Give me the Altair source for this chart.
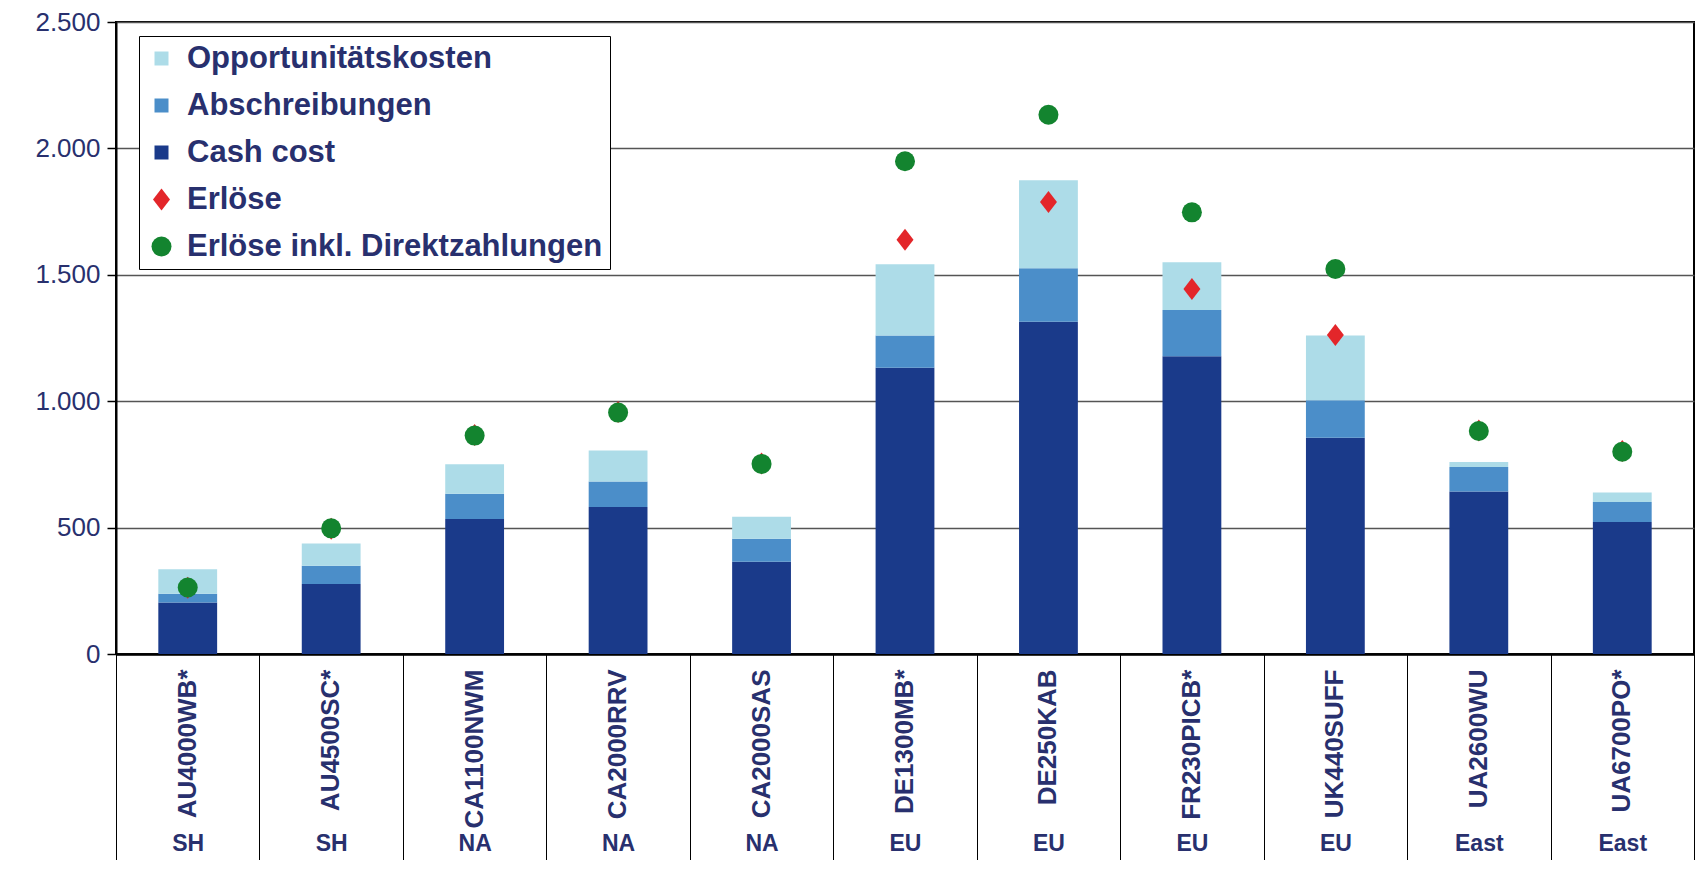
import altair as alt
import pandas as pd

# ---------------- data ----------------
categories = ["AU4000WB*", "AU4500SC*", "CA1100NWM", "CA2000RRV", "CA2000SAS",
              "DE1300MB*", "DE250KAB", "FR230PICB*", "UK440SUFF", "UA2600WU", "UA6700PO*"]
regions = ["SH", "SH", "NA", "NA", "NA", "EU", "EU", "EU", "EU", "East", "East"]

cash_cost = [204, 277, 534, 581, 365, 1132, 1314, 1178, 855, 643, 522]
abschreibungen = [34, 72, 100, 101, 91, 128, 212, 183, 149, 97, 79]
opportunitaetskosten = [97, 88, 117, 123, 87, 282, 348, 189, 256, 19, 38]
erloese = [262, 495, 866, 957, 754, 1639, 1788, 1444, 1262, 884, 803]
erloese_dz = [263, 497, 864, 955, 752, 1949, 2133, 1747, 1523, 882, 800]

series_names = ["Opportunitätskosten", "Abschreibungen", "Cash cost",
                "Erlöse", "Erlöse inkl. Direktzahlungen"]
series_colors = ["#ADDCE8", "#4B8EC9", "#1A3A8A", "#E3262A", "#13842F"]
SQUARE = "M-0.7,-0.7H0.7V0.7H-0.7Z"
DIAMOND = "M-0.85,0L0,-1.1L0.85,0L0,1.1Z"
series_shapes = [SQUARE, SQUARE, SQUARE, DIAMOND, "circle"]

NAVY = "#28306E"
FONT = "Liberation Sans"

# ---------------- tables ----------------
bar_rows = []
for i, c in enumerate(categories):
    bar_rows.append({"category": c, "series": "Cash cost", "value": cash_cost[i], "order": 0})
    bar_rows.append({"category": c, "series": "Abschreibungen", "value": abschreibungen[i], "order": 1})
    bar_rows.append({"category": c, "series": "Opportunitätskosten", "value": opportunitaetskosten[i], "order": 2})
bars_df = pd.DataFrame(bar_rows)

pt_rows = []
for i, c in enumerate(categories):
    pt_rows.append({"category": c, "series": "Erlöse", "value": erloese[i]})
for i, c in enumerate(categories):
    pt_rows.append({"category": c, "series": "Erlöse inkl. Direktzahlungen", "value": erloese_dz[i]})
points_df = pd.DataFrame(pt_rows)

# ---------------- scales ----------------
x_scale = alt.Scale(paddingInner=0, paddingOuter=0)
y_scale = alt.Scale(domain=[0, 2500], nice=False)
color_scale = alt.Scale(domain=series_names, range=series_colors)
shape_scale = alt.Scale(domain=series_names, range=series_shapes)

cats_js = "[" + ",".join("'" + c + "'" for c in categories) + "]"
regs_js = "[" + ",".join("'" + r + "'" for r in regions) + "]"
region_expr = f"{regs_js}[indexof({cats_js}, datum.value)]"

legend = alt.Legend(
    title=None, orient="none", legendX=23, legendY=14,
    labelFont=FONT, labelFontSize=31, labelFontWeight="bold", labelColor=NAVY,
    labelLimit=700, labelOffset=10, symbolSize=400, symbolStrokeWidth=0,
    symbolOpacity=1, rowPadding=15, padding=7,
    fillColor="white", strokeColor="black",
)

y_axis = alt.Axis(title=None, values=[0, 500, 1000, 1500, 2000, 2500],
                  labelExpr="replace(format(datum.value, ','), ',', '.')",
                  labelFont=FONT, labelFontSize=26, labelColor=NAVY,
                  labelPadding=7, tickSize=9, tickColor="black", tickWidth=1.5,
                  domainColor="black", domainWidth=2,
                  grid=True, gridColor="#555555", gridWidth=1.5)

bars = alt.Chart(bars_df).mark_bar(width=alt.RelativeBandSize(0.41)).encode(
    x=alt.X("category:N", sort=categories, scale=x_scale,
            axis=alt.Axis(orient="bottom", title=None, labelAngle=270,
                          labelFont=FONT, labelFontSize=26, labelFontWeight="bold",
                          labelColor=NAVY, labelPadding=15, labelLimit=400,
                          labelOverlap=False, ticks=False, grid=False,
                          domain=True, domainColor="black", domainWidth=2.5)),
    y=alt.Y("value:Q", stack="zero", scale=y_scale, axis=y_axis),
    color=alt.Color("series:N", scale=color_scale, legend=legend),
    order=alt.Order("order:Q"),
)

points = alt.Chart(points_df).mark_point(filled=True, opacity=1, size=400, strokeWidth=0).encode(
    x=alt.X("category:N", sort=categories, scale=x_scale,
            axis=alt.Axis(orient="bottom", title=None, labelExpr=region_expr,
                          labelAngle=0, labelAlign="center", labelBaseline="middle",
                          labelFont=FONT, labelFontSize=23, labelFontWeight="bold",
                          labelColor=NAVY, labelPadding=-17, labelOverlap=False,
                          ticks=True, tickBand="extent", tickSize=206,
                          tickColor="black", tickWidth=1, domain=False, grid=False)),
    y=alt.Y("value:Q", scale=y_scale, axis=y_axis),
    color=alt.Color("series:N", scale=color_scale, legend=legend),
    shape=alt.Shape("series:N", scale=shape_scale, legend=legend),
)

chart = alt.layer(bars, points).resolve_axis(x="independent").properties(
    width=1578, height=632,
    padding={"left": 108, "top": 14, "right": 4, "bottom": 206},
    autosize=alt.AutoSizeParams(type="none"),
).configure(
    font=FONT,
    view=alt.ViewConfig(stroke="black", strokeWidth=2),
)

chart.save("out.html", embed_options={"renderer": "svg", "actions": False})
